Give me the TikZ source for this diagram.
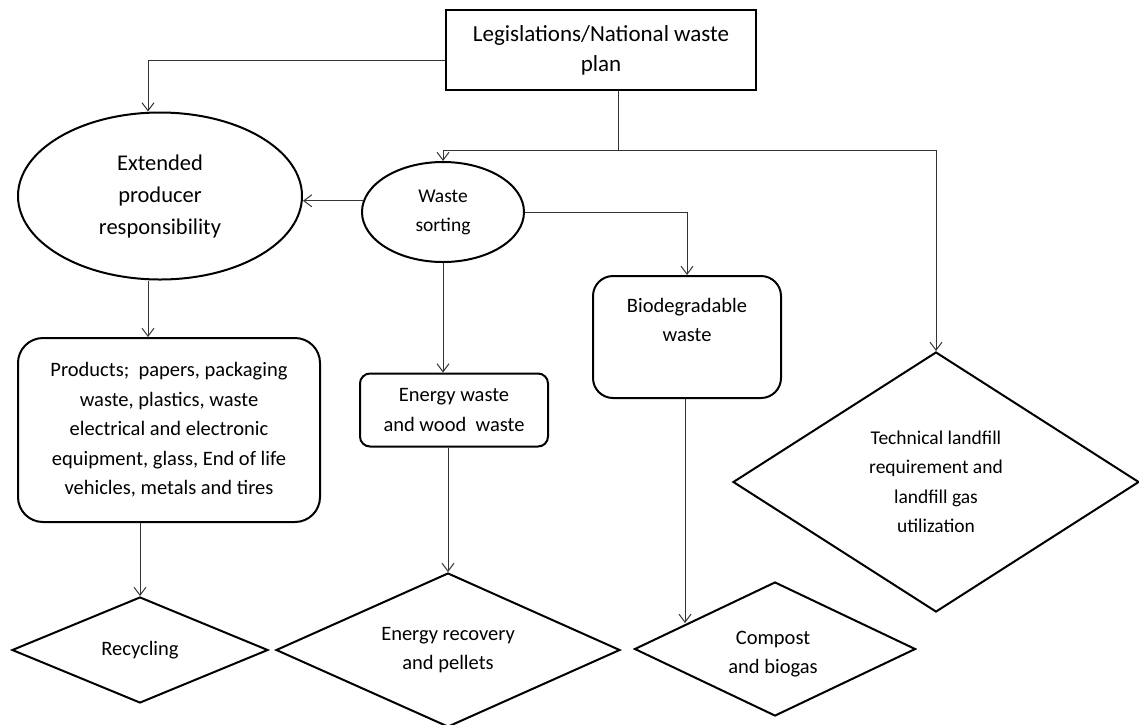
\documentclass[tikz,border=0pt]{standalone}
\usepackage{fontspec}
\setmainfont{Carlito}
\usetikzlibrary{positioning,arrows.meta,shapes.geometric}

\begin{document}
\begin{tikzpicture}[
  x=1pt, y=-1pt,
  txt/.style={font=\fontsize{20.5}{29.5}\selectfont, align=center},
  sqbox/.style={rectangle, draw=black, line width=2pt, txt},
  rbox/.style={rectangle, rounded corners=#1, draw=black, line width=2pt, txt},
  rbox/.default=20pt,
  oval/.style={ellipse, draw=black, line width=2pt, inner sep=0pt, txt},
  gate/.style={diamond, draw=black, line width=2pt, inner sep=0pt, txt},
  arrow/.style={-{Straight Barb[length=8pt,width=12pt]}, line width=1pt, draw=black!80},
  link/.style={line width=1pt, draw=black!80}
]
\useasboundingbox (0,0) rectangle (1139,724);
\clip (0,0) rectangle (1139,724);

% Top
\node[sqbox, minimum width=310pt, minimum height=80pt, font=\fontsize{23}{30}\selectfont] (law) at (601,50) {Legislations/National waste\\plan};

% Ovals
\node[oval, minimum width=284pt, minimum height=167pt, font=\fontsize{22.5}{32}\selectfont] (epr) at (160,196) {Extended\\producer\\responsibility};
\node[oval, minimum width=162pt, minimum height=100pt, font=\fontsize{19.5}{29}\selectfont] (sort) at (443,212) {Waste\\sorting};

% Boxes
\node[rbox=25pt, minimum width=302pt, minimum height=184pt] (prod) at (169,430) {Products;~ papers, packaging\\waste, plastics, waste\\electrical and electronic\\equipment,~glass, End of life\\vehicles, metals and tires};
\node[rbox=10pt, minimum width=188pt, minimum height=73pt] (ew) at (454,410) {Energy waste\\and wood~ waste};
\node[rbox=20pt, minimum width=188pt, minimum height=122pt] (bio) at (687,337) {};
\node[txt] (biotxt) at (687,320) {Biodegradable\\waste};

% Diamonds
\node[gate, aspect=2.4, minimum width=256pt, minimum height=106pt] (rec) at (140,650) {Recycling};
\node[gate, aspect=2.2, minimum width=344pt, minimum height=154pt] (er) at (448,650) {Energy recovery\\and pellets};
\node[gate, aspect=2.1, minimum width=281pt, minimum height=134pt] (comp) at (775,649) {};
\node[txt] (comptxt) at (773,654) {Compost\\and biogas};
\node[gate, aspect=1.56, minimum width=406pt, minimum height=260pt, font=\fontsize{19.5}{29.5}\selectfont] (land) at (936,482) {Technical landfill\\requirement and\\landfill gas\\utilization};

% Junctions
\coordinate (split) at (618,150);
\coordinate (cend) at (685,623);

% Arrows from the top
\draw[arrow] (law.west |- 0,60) -| (epr.north -| 148,0);
\draw[link] (law.south -| split) -- (split);
\draw[arrow] (split) -| (sort.north);
\draw[arrow] (split) -| (land.north);

% Arrows from sorting
\draw[arrow] (sort.172) -- (sort.172 -| epr.east);
\draw[arrow] (sort.east) -| (bio.north);
\draw[arrow] (sort.south) -- (sort.south |- ew.north);

% Arrows to the outputs
\draw[arrow] (epr.south -| 148,0) -- (prod.north -| 148,0);
\draw[arrow] (prod.south -| rec.north) -- (rec.north);
\draw[arrow] (ew.south -| er.north) -- (er.north);
\draw[arrow] (bio.south -| cend) -- (cend);

\end{tikzpicture}
\end{document}
